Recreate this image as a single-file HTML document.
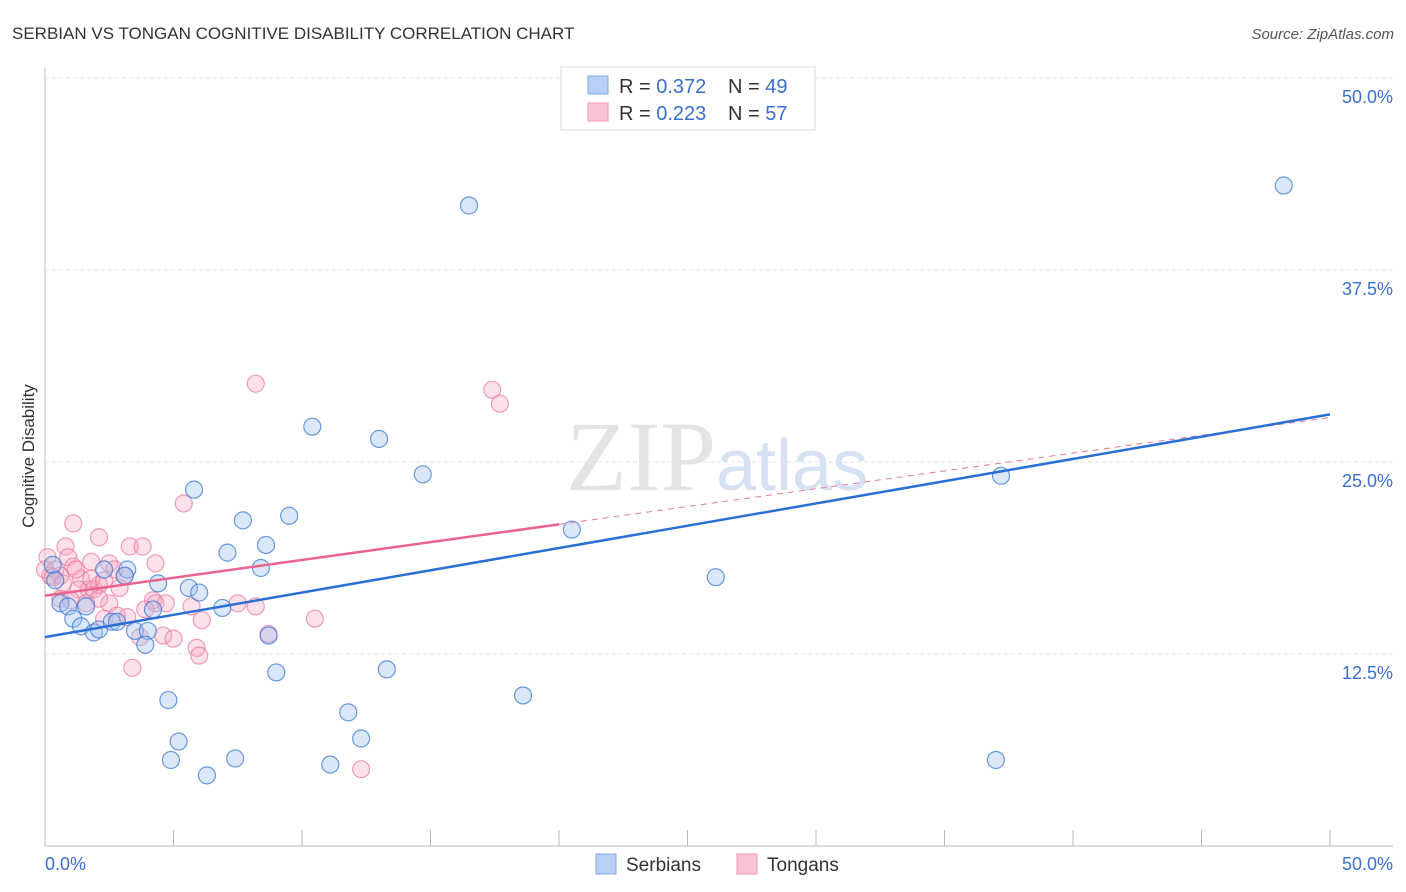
<!DOCTYPE html>
<html><head><meta charset="utf-8">
<style>
body{margin:0;background:#fff;font-family:"Liberation Sans",sans-serif;}
svg{display:block}
</style></head>
<body>
<svg id="chart" width="1406" height="892">
<text x="12" y="39" font-size="17" fill="#333">SERBIAN VS TONGAN COGNITIVE DISABILITY CORRELATION CHART</text>
<text x="1394" y="39" font-size="15" fill="#555" font-style="italic" text-anchor="end">Source: ZipAtlas.com</text>
<text x="34" y="456" font-size="17" fill="#333" text-anchor="middle" transform="rotate(-90 34 456)">Cognitive Disability</text>
<text x="716" y="490" font-size="100" fill="#e4e4e4" text-anchor="end" font-family="Liberation Serif,serif">ZIP</text>
<text x="716" y="490" font-size="72" fill="#d6e2f2">atlas</text>
<g id="grid"></g>
<g id="pts"></g>
<g id="lines"></g>
<g>
<rect x="561" y="67" width="254" height="63" fill="#fff" stroke="#ddd"/>
<rect x="588" y="76" width="20" height="18" fill="#b8d0f5" stroke="#7ea6e6"/>
<rect x="588" y="103" width="20" height="18" fill="#fac4d4" stroke="#ee9ab4"/>
<text x="619" y="93" font-size="20" fill="#333">R = <tspan fill="#3a6fd0">0.372</tspan></text>
<text x="728" y="93" font-size="20" fill="#333">N = <tspan fill="#3a6fd0">49</tspan></text>
<text x="619" y="120" font-size="20" fill="#333">R = <tspan fill="#3a6fd0">0.223</tspan></text>
<text x="728" y="120" font-size="20" fill="#333">N = <tspan fill="#3a6fd0">57</tspan></text>
</g>
<g>
<rect x="596" y="854" width="20" height="20" fill="#b8d0f5" stroke="#7ea6e6"/>
<text x="626" y="871" font-size="19" fill="#333">Serbians</text>
<rect x="737" y="854" width="20" height="20" fill="#fac4d4" stroke="#ee9ab4"/>
<text x="767" y="871" font-size="19" fill="#333">Tongans</text>
</g>
</svg>
<script>
const yTicks=[12.5,25,37.5,50];
const yTickLabels=["12.5%","25.0%","37.5%","50.0%"];
const xTicks=[0,5,10,15,20,25,30,35,40,45,50];
const serbX=[48.2,16.5,10.4,13.0,14.7,37.2,5.8,7.7,9.5,20.5,7.1,8.6,8.4,3.2,2.3,3.1,4.4,5.6,6.0,0.3,0.4,0.6,0.9,1.6,1.1,1.4,1.9,2.1,2.6,2.8,3.5,4.0,3.9,4.2,6.9,8.7,26.1,9.0,13.3,4.8,18.6,11.8,5.2,12.3,4.9,7.4,6.3,11.1,37.0];
const serbY=[43.0,41.7,27.3,26.5,24.2,24.1,23.2,21.2,21.5,20.6,19.1,19.6,18.1,18.0,18.0,17.6,17.1,16.8,16.5,18.3,17.3,15.8,15.6,15.6,14.8,14.3,13.9,14.1,14.6,14.6,14.0,14.0,13.1,15.4,15.5,13.7,17.5,11.3,11.5,9.5,9.8,8.7,6.8,7.0,5.6,5.7,4.6,5.3,5.6];
const tongX=[8.2,17.4,17.7,5.4,1.1,2.1,0.8,0.9,0.1,0.4,0.6,1.1,1.4,1.8,2.5,3.3,3.8,4.3,1.7,1.9,2.1,2.9,2.5,2.8,4.2,4.3,4.7,5.7,7.5,8.2,6.1,10.5,2.3,3.2,3.7,4.6,5.0,5.9,6.0,8.7,3.4,12.3,0.2,1.3,1.8,3.1,0.6,1.0,2.1,1.6,2.7,3.9,0.0,0.3,0.7,2.3,1.2];
const tongY=[30.1,29.7,28.8,22.3,21.0,20.1,19.5,18.8,18.8,18.0,17.6,18.2,17.4,18.5,18.4,19.5,19.5,18.4,16.7,16.7,17.0,16.8,15.8,15.0,16.0,15.8,15.8,15.6,15.8,15.6,14.7,14.8,14.8,14.9,13.6,13.7,13.5,12.9,12.4,13.8,11.6,5.0,17.6,16.7,17.4,17.6,16.1,16.0,16.1,15.8,18.0,15.4,18.0,17.5,17.1,17.3,18.0];
const serbTrend=[13.6,28.1];
const tongTrend=[16.3,27.9];
const tongTrendSolidEnd=20;
const NS="http://www.w3.org/2000/svg";
const sx=v=>45+v*25.7;
const sy=v=>846-v*15.36;
function mk(tag,attrs,parent){const e=document.createElementNS(NS,tag);for(const k in attrs)e.setAttribute(k,attrs[k]);parent.appendChild(e);return e;}
const grid=document.getElementById('grid'),pts=document.getElementById('pts'),lines=document.getElementById('lines');
let ax=mk('line',{x1:45,y1:68,x2:45,y2:846,stroke:'#bbb'},grid);


let bx=mk('line',{x1:45,y1:846,x2:1393,y2:846,stroke:'#bbb'},grid);


yTicks.forEach((t,i)=>{
 let g=mk('line',{x1:45,y1:sy(t),x2:1393,y2:sy(t),stroke:'#e2e2e2','stroke-dasharray':'4,3'},grid);
 
 
 let l=mk('text',{x:1393,y:sy(t)+25,'font-size':18,fill:'#3a6fd0','text-anchor':'end'},grid);
 l.textContent=yTickLabels[i];
 
 
});
xTicks.forEach(t=>{
 let k=mk('line',{x1:sx(t),y1:846,x2:sx(t),y2:830,stroke:'#bbb'},grid);
 
 
});
let x0=mk('text',{x:45,y:870,'font-size':18,fill:'#3a6fd0'},grid);x0.textContent='0.0%';


let x1=mk('text',{x:1393,y:870,'font-size':18,fill:'#3a6fd0','text-anchor':'end'},grid);x1.textContent='50.0%';


tongX.forEach((v,i)=>{
 let c=mk('circle',{cx:sx(v),cy:sy(tongY[i]),r:8.5,fill:'rgba(246,170,195,0.35)',stroke:'rgba(232,120,155,0.7)','stroke-width':1.2},pts);
 
 
});
serbX.forEach((v,i)=>{
 let c=mk('circle',{cx:sx(v),cy:sy(serbY[i]),r:8.5,fill:'rgba(160,195,240,0.4)',stroke:'rgba(60,120,210,0.75)','stroke-width':1.2},pts);
 
 
});
const ty=x=>tongTrend[0]+(tongTrend[1]-tongTrend[0])*x/50;
let td=mk('line',{x1:sx(tongTrendSolidEnd),y1:sy(ty(tongTrendSolidEnd)),x2:sx(50),y2:sy(tongTrend[1]),stroke:'#e7799c','stroke-width':1,'stroke-dasharray':'6,5'},lines);


let tl=mk('line',{x1:sx(0),y1:sy(tongTrend[0]),x2:sx(tongTrendSolidEnd),y2:sy(ty(tongTrendSolidEnd)),stroke:'#e8648f','stroke-width':2.5},lines);


let sl=mk('line',{x1:sx(0),y1:sy(serbTrend[0]),x2:sx(50),y2:sy(serbTrend[1]),stroke:'#2a6fd6','stroke-width':2.5},lines);


</script>
</body></html>
